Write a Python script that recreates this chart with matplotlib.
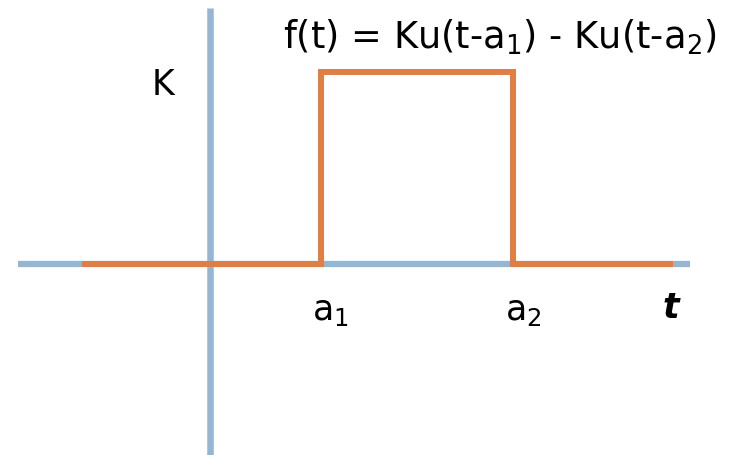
import matplotlib.pyplot as plt

plt.rcParams['mathtext.fontset'] = 'custom'
plt.rcParams['mathtext.rm'] = 'DejaVu Sans'
plt.rcParams['mathtext.it'] = 'DejaVu Sans:italic'

# step pulse f(t) = K u(t-a1) - K u(t-a2), in plot units
t_vals = [-3.46, 3.0, 3.0, 8.2, 8.2, 12.5]
f_vals = [0, 0, 5.2, 5.2, 0, 0]
t_axis = [-5.19, 12.97]
f_axis = [-5.16, 6.92]
a1, a2, K = 3.0, 8.2, 5.2

fig = plt.figure(figsize=(7.38, 4.55), dpi=100)
ax = fig.add_axes([0, 0, 1, 1])
ax.set_xlim(-5.676, 14.27)
ax.set_ylim(-5.162, 7.135)
ax.axis('off')

blue = '#94b6d3'
orange = '#df7e45'
ax.plot(t_axis, [0, 0], color=blue, lw=4.5, solid_capstyle='butt')
ax.plot([0, 0], f_axis, color=blue, lw=4.7, solid_capstyle='butt')
ax.plot(t_vals, f_vals, color=orange, lw=4.3, solid_joinstyle='miter',
        solid_capstyle='butt')

fs = 25
ax.text(-1.26, 4.57, 'K', fontsize=fs, ha='center', va='baseline')
ax.text(7.84, 5.81, r'f(t) = Ku(t-a$_1$) - Ku(t-a$_2$)', fontsize=26.5,
        ha='center', va='baseline')
ax.text(a1 + 0.24, -1.51, r'a$_1$', fontsize=fs, ha='center', va='baseline')
ax.text(a2 + 0.26, -1.51, r'a$_2$', fontsize=fs, ha='center', va='baseline')
ax.text(12.46, -1.46, 't', fontsize=fs, style='italic',
        weight='bold', ha='center', va='baseline')

fig.savefig('out.png', dpi=100)
